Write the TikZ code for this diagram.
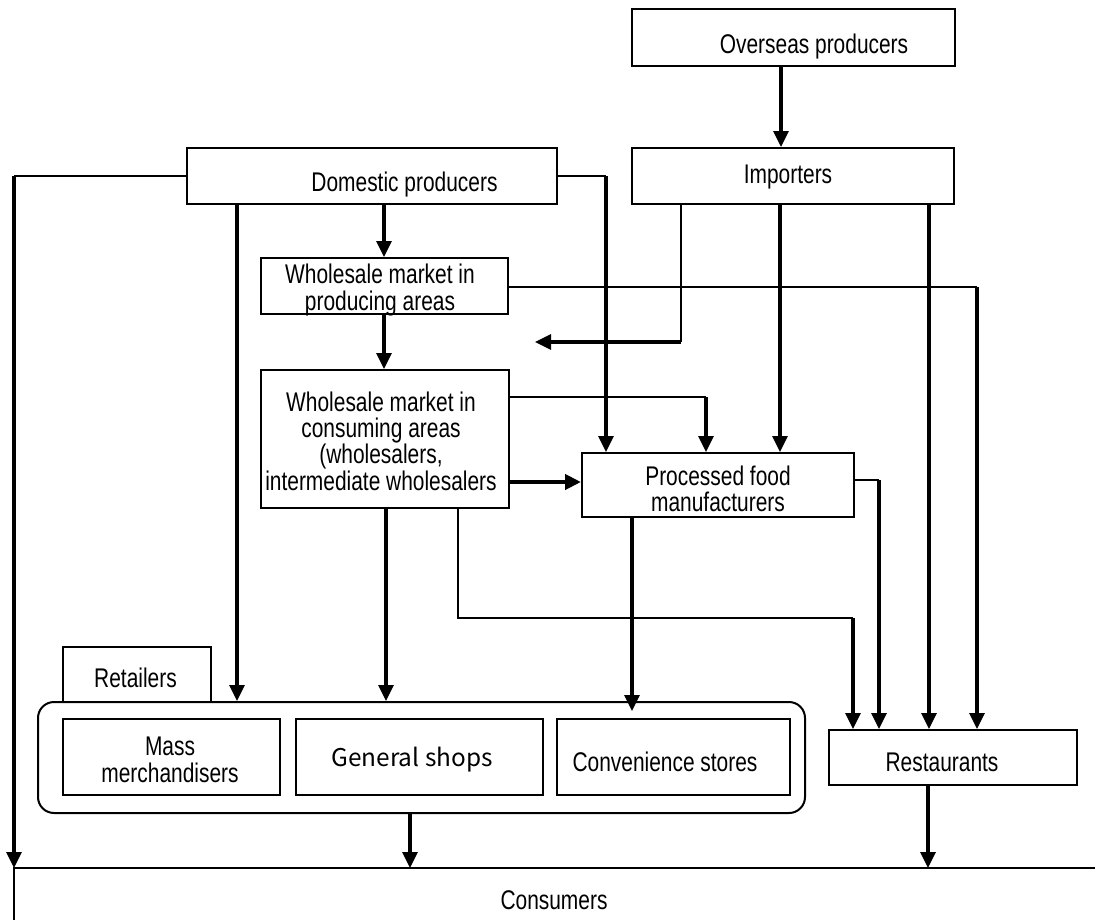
\documentclass[tikz,border=0pt]{standalone}
\usepackage{fontspec}
\setmainfont[FakeStretch=0.775]{Liberation Sans}
\newfontfamily\gfont{Noto Sans CJK JP}
\usetikzlibrary{arrows.meta,calc}
\begin{document}
\begin{tikzpicture}[x=0.5pt,y=-0.5pt,
  box/.style={draw, line width=1pt, inner sep=0pt},
  txt/.style={font=\fontsize{13.5}{13.2}\selectfont, align=center, inner sep=0pt},
  thn/.style={line width=0.9pt},
  thk/.style={line width=1.6pt},
  arr/.style={-{Triangle[length=8pt,width=7.5pt]}},
]
\useasboundingbox (0,0) rectangle (1095,920);

% boxes
\node[box, minimum width=161.5pt, minimum height=28.5pt] (ovs) at (793.5,37.5) {};
\node[box, minimum width=161pt, minimum height=28pt] (imp) at (793,176) {};
\node[box, minimum width=185pt, minimum height=28pt] (dom) at (372,176) {};
\node[box, minimum width=123.5pt, minimum height=28pt] (prod) at (384.5,286) {};
\node[box, minimum width=124pt, minimum height=69pt] (cons) at (385,439) {};
\node[box, minimum width=136pt, minimum height=32pt] (proc) at (718,485) {};
\node[box, minimum width=74pt, minimum height=27.5pt] (ret) at (137,674.5) {};
\node[box, rounded corners=8pt, minimum width=383.5pt, minimum height=55.5pt] (cont) at (421.5,757.5) {};
\node[box, minimum width=108.5pt, minimum height=38pt] (mass) at (171.5,757) {};
\node[box, minimum width=123.5pt, minimum height=38pt] (gen) at (419.5,757) {};
\node[box, minimum width=116.5pt, minimum height=38pt] (conv) at (673.5,757) {};
\node[box, minimum width=124pt, minimum height=27.5pt] (rest) at (953,757.5) {};
\coordinate (consTL) at (14,868);
\draw[line width=1.3pt] (14,920) -- (consTL) -- (1095,868);

% texts
\node[txt] (ovs-t) at (814,47) {Overseas producers};
\node[txt] (imp-t) at (788,177) {Importers};
\node[txt] (dom-t) at (404.5,185) {Domestic producers};
\node[txt] (prod-t) at (380,290) {Wholesale market in\\producing areas};
\node[txt] (cons-t) at (381,441) {Wholesale market in\\consuming areas\\(wholesalers,\\intermediate wholesalers};
\node[txt] (proc-t) at (718,489) {Processed food\\manufacturers};
\node[txt] (ret-t) at (135.5,678) {Retailers};
\node[txt] (mass-t) at (170,760) {Mass\\merchandisers};
\node[txt, font=\gfont\fontsize{12.2}{13}\selectfont] (gen-t) at (412,760) {General shops};
\node[txt] (conv-t) at (665,762) {Convenience stores};
\node[txt] (rest-t) at (942,762) {Restaurants};
\node[txt] (consu-t) at (554,900) {Consumers};

% column / row helpers
\coordinate (k14) at (14,0);
\coordinate (k237) at (237,0);
\coordinate (k384) at (384,0);
\coordinate (k386) at (386,0);
\coordinate (k410) at (410,0);
\coordinate (k458) at (458,0);
\coordinate (k606) at (606,0);
\coordinate (k632) at (632,0);
\coordinate (k681) at (681,0);
\coordinate (k706) at (706,0);
\coordinate (k781) at (781,0);
\coordinate (k780) at (780,0);
\coordinate (k853) at (853,0);
\coordinate (k879) at (879,0);
\coordinate (k928) at (928,0);
\coordinate (k929) at (929,0);
\coordinate (k977) at (977,0);
\coordinate (r287) at (0,287);
\coordinate (r342) at (0,342);
\coordinate (r397) at (0,397);
\coordinate (r480) at (0,480);
\coordinate (r482) at (0,482);
\coordinate (r618) at (0,618);
\coordinate (tip535) at (535,342);

% connectors
\draw[thk,arr] (ovs.south -| k781) -- (imp.north -| k781);
\draw[thn] (dom.west) -- (dom.west -| k14);
\draw[thk,arr] (dom.west -| k14) -- (consTL);
\draw[thn] (dom.east) -- (dom.east -| k606);
\draw[thk,arr] (dom.east -| k606) -- (proc.north -| k606);
\draw[thk,arr] (dom.south -| k237) -- (cont.north -| k237);
\draw[thk,arr] (dom.south -| k384) -- (prod.north -| k384);
\draw[thn] (prod.east |- r287) -- (k977 |- r287);
\draw[thk,arr] (k977 |- r287) -- (rest.north -| k977);
\draw[thk,arr] (prod.south -| k384) -- (cons.north -| k384);
\draw[thn] (imp.south -| k681) -- (k681 |- r342);
\draw[thk,arr] (k681 |- r342) -- (tip535);
\draw[thk,arr] (imp.south -| k780) -- (proc.north -| k780);
\draw[thk,arr] (imp.south -| k929) -- (rest.north -| k929);
\draw[thn] (cons.east |- r397) -- (k706 |- r397);
\draw[thk,arr] (k706 |- r397) -- (proc.north -| k706);
\draw[line width=2.2pt,arr] (cons.east |- r482) -- (proc.west |- r482);
\draw[thk,arr] (cons.south -| k386) -- (cont.north -| k386);
\draw[thn] (cons.south -| k458) -- (k458 |- r618) -- (k853 |- r618);
\draw[thk,arr] (k853 |- r618) -- (rest.north -| k853);
\draw[thn] (proc.east |- r480) -- (k879 |- r480);
\draw[thk,arr] (k879 |- r480) -- (rest.north -| k879);
\draw[thk,arr] (proc.south -| k632) -- ($(conv.north -| k632)+(0,-7)$);
\draw[thk,arr] (cont.south -| k410) -- (k410 |- consTL);
\draw[thk,arr] (rest.south -| k928) -- (k928 |- consTL);
\end{tikzpicture}
\end{document}
